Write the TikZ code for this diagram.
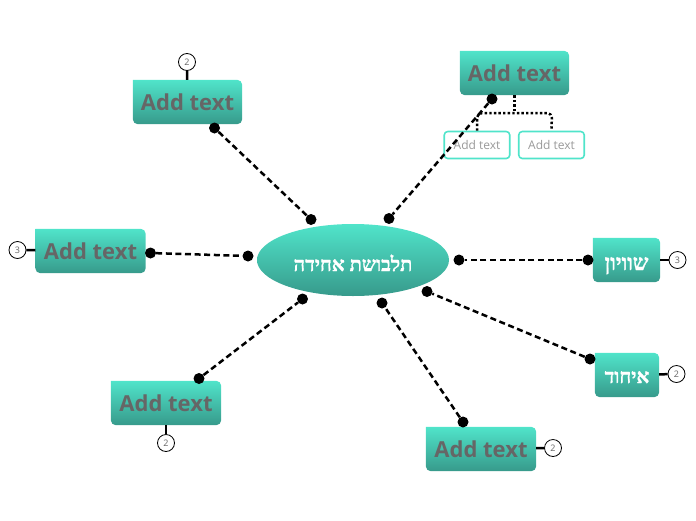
\documentclass[tikz,border=0pt]{standalone}
\usepackage{fontspec}
\setmainfont{Open Sans}
\newfontfamily\hebfont[Script=Hebrew,UprightFont=*-Bold,FakeBold=1.2]{LiberationSerif}
\TeXXeTstate=1
\usepackage{tikz}
\usetikzlibrary{backgrounds}
\usetikzlibrary{shapes.geometric}
\definecolor{topgreen}{HTML}{50E4CA}
\definecolor{lowgreen}{HTML}{379A8B}
\definecolor{addgray}{HTML}{666666}
\definecolor{subgray}{HTML}{9A9A9A}
\tikzset{l/.style={font=\fontsize{22}{22}\selectfont\bfseries, text=addgray, inner sep=0pt, text height=17.8pt, text depth=0pt}}
\tikzset{h/.style={font=\fontsize{20}{20}\hebfont, text=white, inner sep=0pt, text depth=0pt}}
\tikzset{s/.style={draw=topgreen, line width=1.6pt, rounded corners=3.5pt, fill=white, font=\fontsize{12}{12}\selectfont, text=subgray, inner sep=0pt}}
\tikzset{c/.style={draw=black, line width=.8pt, fill=white, circle, minimum size=17pt, inner sep=0pt, font=\fontsize{9}{9}\selectfont, text=addgray}}
\tikzset{d/.style={fill=black, circle, minimum size=11pt, inner sep=0pt}}
\tikzset{link/.style={line width=2.5pt, dash pattern=on 6pt off 3.6pt}}
\tikzset{tie/.style={line width=2.5pt}}
\tikzset{dots/.style={line width=2.5pt, dash pattern=on 2.4pt off 2.2pt}}
\newcommand{\shadebox}[1]{
  \shade[top color=topgreen, bottom color=lowgreen, rounded corners=5pt] (#1.south west) -- (#1.south east) -- (#1.north east) [sharp corners] -- (#1.north west) [rounded corners=5pt] -- cycle;
}

\begin{document}
\begin{tikzpicture}[x=1pt, y=-1pt, line join=round]
  \useasboundingbox (0,0) rectangle (696,520);

  \node [l, minimum width=109pt, minimum height=44pt] (TL) at (187.5,102) {Add text};
  \node [l, minimum width=109pt, minimum height=44pt] (TR) at (514.5,73) {Add text};
  \node [l, minimum width=110pt, minimum height=44pt] (LE) at (90.5,251) {Add text};
  \node [l, minimum width=110pt, minimum height=44pt] (BL) at (166,403) {Add text};
  \node [l, minimum width=110pt, minimum height=44pt] (BR) at (481,449) {Add text};
  \node [h, font=\fontsize{22}{22}\hebfont, text height=20pt, minimum width=67pt, minimum height=44pt] (RA) at (626.5,260) {\beginR שוויון\endR};
  \node [h, text height=16pt, minimum width=64pt, minimum height=44pt] (RB) at (627,375) {\beginR איחוד\endR};
  \node [h, text height=22pt, ellipse, top color=topgreen, bottom color=lowgreen, minimum width=192pt, minimum height=72pt] (M) at (353,260) {\beginR תלבושת אחידה\endR};

  \begin{pgfonlayer}{background}
    \foreach \n in {TL,TR,LE,BL,BR,RA,RB} {\shadebox{\n}}
  \end{pgfonlayer}

  \node [s, minimum width=65.5pt, minimum height=27pt] (SA) at (477,145) {Add text};
  \node [s, minimum width=65.5pt, minimum height=27pt] (SB) at (551.5,145) {Add text};
  \coordinate (J) at (514.5,113);
  \draw [dots] (TR.south) -- (J);
  \draw [dots, rounded corners=5pt] (SA.north) -- (477,113) -- (J) -- (552,113) -- (SB.north);

  \node [c] (CA) at (187,62) {2} edge [tie] (TL);
  \node [c] (CB) at (17.5,250) {3} edge [tie] (LE);
  \node [c] (CC) at (166,443) {2} edge [tie] (BL);
  \node [c] (CD) at (553,448) {2} edge [tie] (BR);
  \node [c] (CE) at (677.5,260) {3} edge [tie] (RA);
  \node [c] (CF) at (676.5,374) {2} edge [tie] (RB);

  \node [d] (A) at (311,219.5) {};
  \node [d] (B) at (214.5,128) {}
    edge [link] (A);
  \node [d] (C) at (389,218.5) {};
  \node [d] (D) at (492,99) {}
    edge [link] (C);
  \node [d] (E) at (248,256) {};
  \node [d] (F) at (150.5,253) {}
    edge [link] (E);
  \node [d] (G) at (459,260) {};
  \node [d] (H) at (588,260) {}
    edge [link] (G);
  \node [d] (I) at (427,291.5) {};
  \node [d] (K) at (590,359) {}
    edge [link] (I);
  \node [d] (N) at (382,303) {};
  \node [d] (O) at (463,422) {}
    edge [link] (N);
  \node [d] (P) at (302.5,299) {};
  \node [d] (Q) at (199,378.5) {}
    edge [link] (P);
\end{tikzpicture}
\end{document}
